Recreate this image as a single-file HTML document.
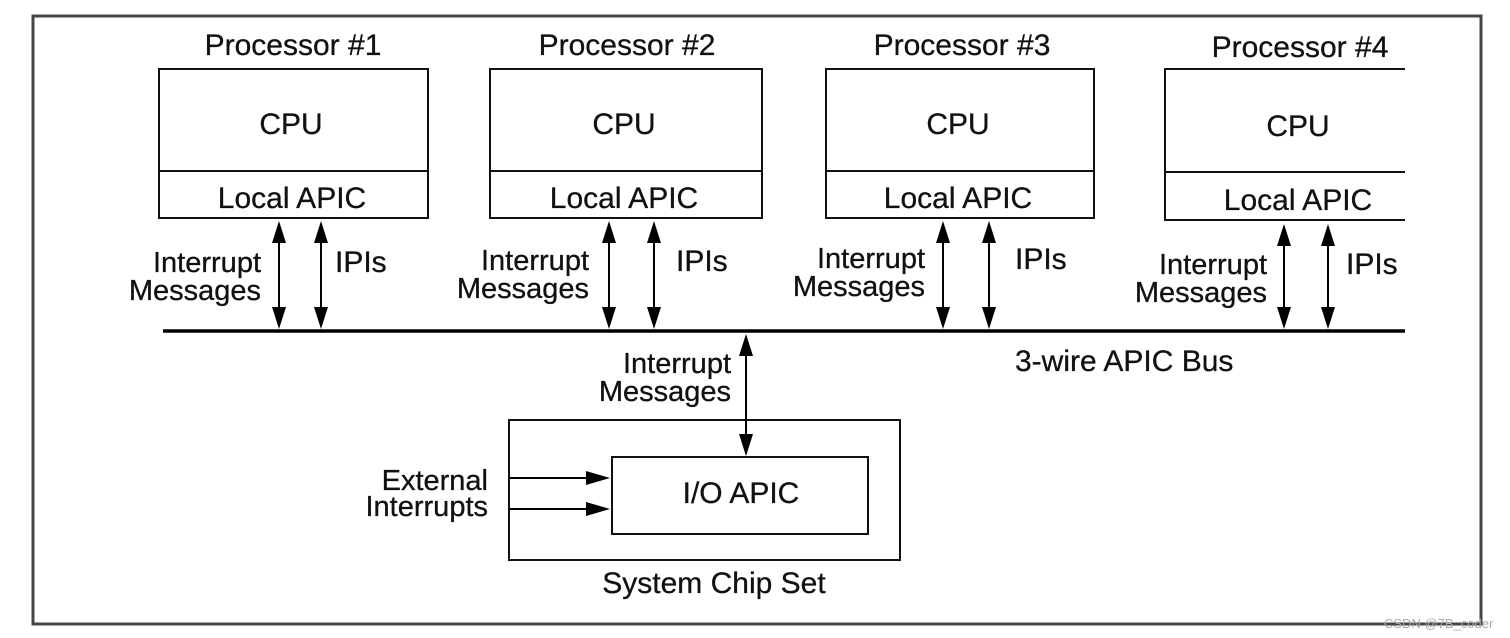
<!DOCTYPE html>
<html><head><meta charset="utf-8"><style>html,body{margin:0;padding:0;background:#fff}svg{display:block}</style></head>
<body>
<svg width="1510" height="638" viewBox="0 0 1510 638" xmlns="http://www.w3.org/2000/svg" font-family="Liberation Sans, Arial, sans-serif" fill="#111">
<rect x="33" y="16" width="1448" height="608" fill="none" stroke="#444" stroke-width="3"/>
<g stroke="#111" stroke-width="2" fill="none">
<path d="M159 69H428V218H159ZM159 171H428"/>
<path d="M490 69H762V218H490ZM490 171H762"/>
<path d="M826 69H1094V218H826ZM826 171H1094"/>
<path d="M1405 69H1165V220H1405M1165 172H1405"/>
<path d="M509 420H900V560H509Z"/>
<path d="M612 457H868V534H612Z"/>
</g>
<line x1="163" y1="331" x2="1405" y2="331" stroke="#000" stroke-width="3.5"/>
<g stroke="#000" stroke-width="2">
<line x1="279" y1="236" x2="279" y2="314"/><line x1="321" y1="236" x2="321" y2="314"/>
<line x1="609" y1="236" x2="609" y2="314"/><line x1="654" y1="236" x2="654" y2="314"/>
<line x1="943" y1="236" x2="943" y2="314"/><line x1="989" y1="236" x2="989" y2="314"/>
<line x1="1284" y1="238" x2="1284" y2="314"/><line x1="1328" y1="238" x2="1328" y2="314"/>
<line x1="746" y1="350" x2="746" y2="438"/>
<line x1="510" y1="478" x2="592" y2="478"/><line x1="510" y1="509" x2="592" y2="509"/>
</g>
<g fill="#000">
<path d="M279 221l-7 22h14zM279 329l-7-22h14z"/>
<path d="M321 221l-7 22h14zM321 329l-7-22h14z"/>
<path d="M609 221l-7 22h14zM609 329l-7-22h14z"/>
<path d="M654 221l-7 22h14zM654 329l-7-22h14z"/>
<path d="M943 221l-7 22h14zM943 329l-7-22h14z"/>
<path d="M989 221l-7 22h14zM989 329l-7-22h14z"/>
<path d="M1284 224l-7 22h14zM1284 329l-7-22h14z"/>
<path d="M1328 224l-7 22h14zM1328 329l-7-22h14z"/>
<path d="M746 334l-7 22h14zM746 456l-7-22h14z"/>
<path d="M610 478l-24-7v14zM610 509l-24-7v14z"/>
</g>
<g font-size="30" text-anchor="middle" stroke="#111" stroke-width="0.3">
<text x="293" y="55">Processor #1</text>
<text x="627" y="55">Processor #2</text>
<text x="962" y="55">Processor #3</text>
<text x="1300" y="57">Processor #4</text>
<text x="291" y="134">CPU</text>
<text x="624" y="134">CPU</text>
<text x="958" y="134">CPU</text>
<text x="1298" y="136">CPU</text>
<text x="292" y="208">Local APIC</text>
<text x="624" y="208">Local APIC</text>
<text x="958" y="208">Local APIC</text>
<text x="1298" y="210">Local APIC</text>
<text x="741" y="503">I/O APIC</text>
<text x="714" y="593">System Chip Set</text>
</g>
<g font-size="29" text-anchor="end" stroke="#111" stroke-width="0.3">
<text x="261" y="272">Interrupt</text><text x="261" y="300">Messages</text>
<text x="589" y="270">Interrupt</text><text x="589" y="298">Messages</text>
<text x="925" y="268">Interrupt</text><text x="925" y="296">Messages</text>
<text x="1267" y="274">Interrupt</text><text x="1267" y="302">Messages</text>
<text x="731" y="373">Interrupt</text><text x="731" y="401">Messages</text>
<text x="488" y="490">External</text><text x="488" y="516">Interrupts</text>
</g>
<g font-size="30" stroke="#111" stroke-width="0.3">
<text x="335" y="272">IPIs</text>
<text x="676" y="271">IPIs</text>
<text x="1015" y="269">IPIs</text>
<text x="1346" y="274">IPIs</text>
<text x="1015" y="371">3-wire APIC Bus</text>
</g>
<text x="1384" y="628" font-size="13" fill="#aaa">CSDN @7B_coder</text>
</svg>
</body></html>
